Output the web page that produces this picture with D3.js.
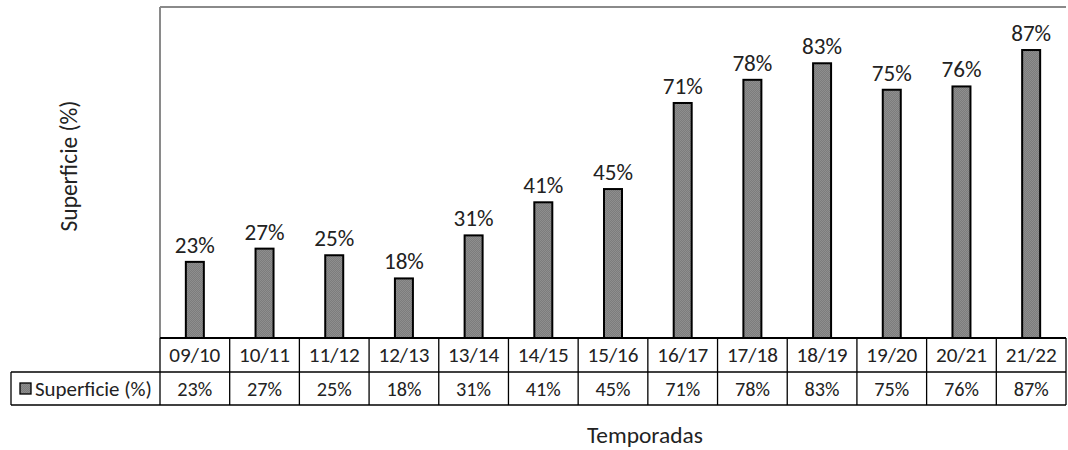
<!DOCTYPE html>
<html><head><meta charset="utf-8">
<script src="https://cdn.jsdelivr.net/npm/d3@7"></script>
<style>body{margin:0;background:#fff}svg{display:block}</style>
</head><body>
<svg id="c" width="1068" height="450"></svg>
<script>
const categories = ["09/10","10/11","11/12","12/13","13/14","14/15","15/16","16/17","17/18","18/19","19/20","20/21","21/22"];
const values = [23,27,25,18,31,41,45,71,78,83,75,76,87];
const seriesName = "Superficie (%)";
const yTitle = "Superficie (%)";
const xTitle = "Temporadas";

const svg = d3.select("#c");
const font = "Calibri, Carlito, Lato, 'Open Sans', sans-serif";
const L = 160, R = 1066, T = 7, B = 338;
const x = d3.scaleBand().domain(categories).range([L, R]).paddingInner(0).paddingOuter(0);
const y = d3.scaleLinear().domain([0, 100]).range([B, T]);

// size a text selection so that its first element has a target width
function fit(sel, target) {
  const n = sel.node(); const w = n.getComputedTextLength();
  const fs = parseFloat(n.getAttribute("font-size"));
  sel.attr("font-size", (fs * target / w).toFixed(2));
}

const defs = svg.append("defs");
const pat = defs.append("pattern").attr("id","p").attr("width",2).attr("height",2).attr("patternUnits","userSpaceOnUse");
pat.append("rect").attr("width",2).attr("height",2).attr("fill","#7c7c7c");
pat.append("rect").attr("width",1).attr("height",1).attr("fill","#8e8e8e");
pat.append("rect").attr("x",1).attr("y",1).attr("width",1).attr("height",1).attr("fill","#8e8e8e");

// plot border
svg.append("line").attr("x1",L).attr("x2",R).attr("y1",T).attr("y2",T).attr("stroke","#8a8a8a").attr("stroke-width",2);
svg.append("line").attr("x1",L).attr("x2",L).attr("y1",T).attr("y2",B).attr("stroke","#8a8a8a").attr("stroke-width",2);

const bw = 18;
svg.selectAll("rect.bar").data(values).join("rect").attr("class","bar")
  .attr("x",(d,i)=>x(categories[i])+x.bandwidth()/2-bw/2)
  .attr("y",d=>y(d)).attr("width",bw).attr("height",d=>B-y(d))
  .attr("fill","url(#p)").attr("stroke","#000").attr("stroke-width",2);

const labs = svg.selectAll("text.lab").data(values).join("text").attr("class","lab")
  .attr("x",(d,i)=>x(categories[i])+x.bandwidth()/2)
  .attr("y",d=>y(d)-9).attr("text-anchor","middle")
  .attr("font-family",font).attr("font-size",18).attr("fill","#222")
  .text(d=>d+"%");
fit(labs, 40);

// data table
const r1 = B, r2 = 372, r3 = 405, tl = 11;
const g = svg.append("g").attr("stroke","#000").attr("stroke-width",1.3);
g.append("line").attr("x1",L).attr("x2",R).attr("y1",r1).attr("y2",r1).attr("stroke-width",2);
g.append("line").attr("x1",tl).attr("x2",R).attr("y1",r2).attr("y2",r2);
g.append("line").attr("x1",tl).attr("x2",R).attr("y1",r3).attr("y2",r3);
g.append("line").attr("x1",tl).attr("x2",tl).attr("y1",r2).attr("y2",r3);
const xs = categories.map(c=>x(c)).concat([R]);
g.selectAll("line.v").data(xs).join("line").attr("class","v")
  .attr("x1",d=>d).attr("x2",d=>d).attr("y1",r1).attr("y2",r3);

const cats = svg.selectAll("text.cat").data(categories).join("text").attr("class","cat")
  .attr("x",d=>x(d)+x.bandwidth()/2).attr("y",(r1+r2)/2+7).attr("text-anchor","middle")
  .attr("font-family",font).attr("font-size",17).attr("fill","#222").text(d=>d);
fit(cats, 51);
const vals = svg.selectAll("text.val").data(values).join("text").attr("class","val")
  .attr("x",(d,i)=>x(categories[i])+x.bandwidth()/2).attr("y",(r2+r3)/2+7).attr("text-anchor","middle")
  .attr("font-family",font).attr("font-size",17).attr("fill","#222").text(d=>d+"%");
fit(vals, 35);

svg.append("rect").attr("x",20).attr("y",383).attr("width",11).attr("height",11)
  .attr("fill","url(#p)").attr("stroke","#000").attr("stroke-width",1.3);
const leg = svg.append("text").attr("x",35).attr("y",(r2+r3)/2+7).attr("font-family",font).attr("font-size",17)
  .attr("fill","#222").text(seriesName);
fit(leg, 117);

const yt = svg.append("text").attr("transform","translate(77,166) rotate(-90)").attr("text-anchor","middle")
  .attr("font-family",font).attr("font-size",17).attr("fill","#222").text(yTitle);
fit(yt, 131);
const xt = svg.append("text").attr("x",645).attr("y",443).attr("text-anchor","middle")
  .attr("font-family",font).attr("font-size",17).attr("fill","#222").text(xTitle);
fit(xt, 116);
</script>
</body></html>
